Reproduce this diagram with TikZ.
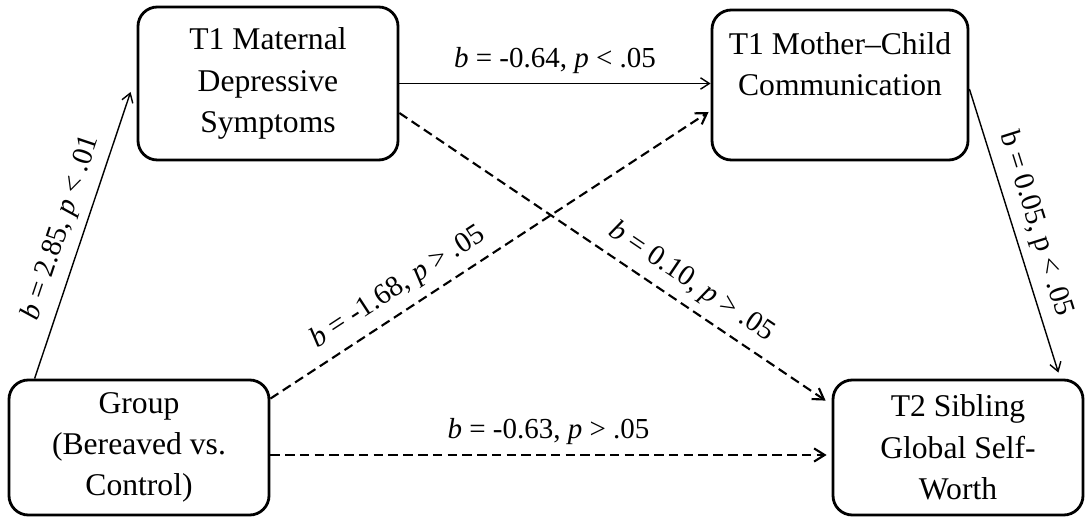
\documentclass[tikz,border=0pt]{standalone}
\usepackage{fontspec}
\setmainfont{Liberation Serif}
\usepackage{tikz}
\usetikzlibrary{arrows.meta}

\begin{document}
\begin{tikzpicture}[
  var/.style={draw, line width=1.6pt, rounded corners=11pt, align=center,
              font=\fontsize{18}{23.5}\selectfont, inner sep=0pt},
  sarc/.style={-{Straight Barb[length=5pt,width=6.5pt]}, line width=0.8pt},
  darc/.style={-{Straight Barb[length=6pt,width=7.5pt]}, line width=1.2pt,
               dash pattern=on 5.4pt off 3pt},
  coef/.style={font=\fontsize{16.5}{20}\selectfont, sloped, inner sep=5pt},
]
\useasboundingbox (0,0) rectangle (21.7,10.36);
%─── Variables ─────────────────────────────────────────────────────────────
\node[var, minimum width=5.2cm, minimum height=3.06cm] (mds) at (5.36,8.69)
  {T1 Maternal\\Depressive\\Symptoms};
\node[var, minimum width=5.12cm, minimum height=3.0cm] (mcc) at (16.8,8.66)
  {T1 Mother–Child\\Communication\\\mbox{}};
\node[var, minimum width=5.2cm, minimum height=2.7cm] (grp) at (2.78,1.41)
  {Group\\(Bereaved vs.\\Control)};
\node[var, minimum width=5.0cm, minimum height=2.7cm] (sgw) at (19.16,1.41)
  {T2 Sibling\\Global Self-\\Worth};
%─── Paths ─────────────────────────────────────────────────────────────────
\draw[sarc] ([xshift=0.54cm]grp.north west)
  -- node[coef, above]{\textit{b} = 2.85, \textit{p} < .01}
  ([xshift=-0.12cm,yshift=-0.17cm]mds.west);
\draw[sarc] (mds.east)
  -- node[coef, above]{\textit{b} = -0.64, \textit{p} < .05}
  (mds.east -| mcc.west);
\draw[darc] ([yshift=-0.4cm]grp.north east)
  -- node[coef, above, pos=0.32]{\textit{b} = -1.68, \textit{p} > .05}
  ([xshift=-0.04cm,yshift=-0.54cm]mcc.west);
\draw[darc] ([yshift=-0.59cm]mds.east)
  -- node[coef, above, pos=0.655]{\textit{b} = 0.10, \textit{p} > .05}
  ([xshift=-0.12cm,yshift=-0.44cm]sgw.north west);
\draw[darc] ([yshift=-0.15cm]grp.east)
  -- node[coef, above]{\textit{b} = -0.63, \textit{p} > .05}
  ([xshift=-0.1cm,yshift=-0.15cm]sgw.west);
\draw[sarc] ([yshift=-0.08cm]mcc.east)
  -- node[coef, above]{b = 0.05, p < .05}
  ([xshift=-0.52cm,yshift=0.12cm]sgw.north east);
\end{tikzpicture}
\end{document}
